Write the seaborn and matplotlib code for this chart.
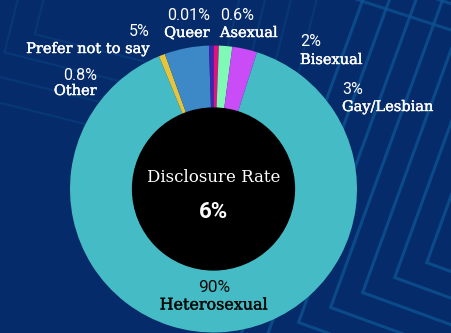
import numpy as np
import matplotlib
matplotlib.use("Agg")
import matplotlib.pyplot as plt
from matplotlib.patches import Circle, Polygon
import matplotlib.patheffects as pe
import seaborn as sns

sns.set_theme(style="white")

# ---- data (clockwise from 12 o'clock, alphabetical) ----
categories = ["Asexual", "Bisexual", "Gay/Lesbian", "Heterosexual", "Other", "Prefer not to say", "Queer"]
shares = [0.6, 1.5, 2.8, 88.9, 0.7, 5.0, 0.5]          # slice sizes as drawn
pct_labels = ["0.6%", "2%", "3%", "90%", "0.8%", "5%", "0.01%"]
colors = ["#e0127f", "#80f8b6", "#c94cf6", "#45bcc5", "#e6c43c", "#3d88c6", "#3a26b3"]
center_title = "Disclosure Rate"
center_value = "6%"

BG = "#062b6b"
W, H = 451, 333
fig = plt.figure(figsize=(W / 100, H / 100), dpi=100, facecolor=BG)

# ---- background pattern ----
bg = fig.add_axes([0, 0, 1, 1])
bg.set_xlim(0, W)
bg.set_ylim(H, 0)
bg.axis("off")
bg.set_facecolor(BG)


def rot_square(cx, cy, h, th):
    c, s = np.cos(np.radians(th)), np.sin(np.radians(th))
    pts = []
    for (x, y) in [(-h, -h), (h, -h), (h, h), (-h, h)]:
        pts.append((cx + x * c - y * s, cy + x * s + y * c))
    return pts


for h in [150, 175, 200, 225, 250, 275, 300]:
    bg.add_patch(Polygon(rot_square(619, 173, h, 20), closed=True, fill=False,
                         ec="#0c5592", lw=2.2, alpha=0.75))
for h in [95, 120, 145, 170]:
    bg.add_patch(Polygon(rot_square(150, -35, h, 14), closed=True, fill=False,
                         ec="#0c5592", lw=1.6, alpha=0.3))
for h in [200, 225, 250, 275, 300]:
    bg.add_patch(Polygon(rot_square(560, -250, h, 18), closed=True, fill=False,
                         ec="#0c5592", lw=2.2, alpha=0.7))

# ---- donut ----
cx, cy, R, r = 213.5, 189.0, 143.5, 79.5
ax = fig.add_axes([(cx - R) / W, (H - cy - R) / H, 2 * R / W, 2 * R / H])
ax.pie(shares, colors=colors, startangle=90, counterclock=False, radius=1.0,
       wedgeprops=dict(width=1 - r / R, linewidth=0, antialiased=True))
ax.add_patch(Circle((0, 0), r / R + 0.01, color="black", zorder=5))
ax.set_xlim(-1, 1)
ax.set_ylim(-1, 1)
ax.set_aspect("equal")
ax.axis("off")

ax.text(0, 0.08, center_title, ha="center", va="center", color="white",
        fontsize=12, family="DejaVu Serif", zorder=6)
ax.text(0, -0.16, center_value, ha="center", va="center", color="white",
        fontsize=16, fontweight="bold", family="Roboto", zorder=6)

# ---- outside labels (pixel layout) ----
def lab(x, y_pct, y_name, i, ha, color="white", fs_pct=11.5, fs_name=10.5):
    fig.text(x / W, 1 - y_pct / H, pct_labels[i], ha=ha, va="center", color=color,
             fontsize=fs_pct, family="Roboto")
    fig.text(x / W, 1 - y_name / H, categories[i], ha=ha, va="center", color=color,
             fontsize=fs_name, family="DejaVu Serif",
             path_effects=[pe.withStroke(linewidth=0.3, foreground=color)])

lab(220, 15, 33, 0, "left")
lab(300, 42, 60, 1, "left")
lab(342, 90, 107, 2, "left")
lab(214, 287, 305, 3, "center", color="#0a0a0a", fs_pct=12.5, fs_name=11.5)
lab(97, 75, 91, 4, "right")
lab(150, 32, 49, 5, "right")
lab(210, 15, 33, 6, "right")

fig.savefig("out.png", dpi=100, facecolor=BG)
